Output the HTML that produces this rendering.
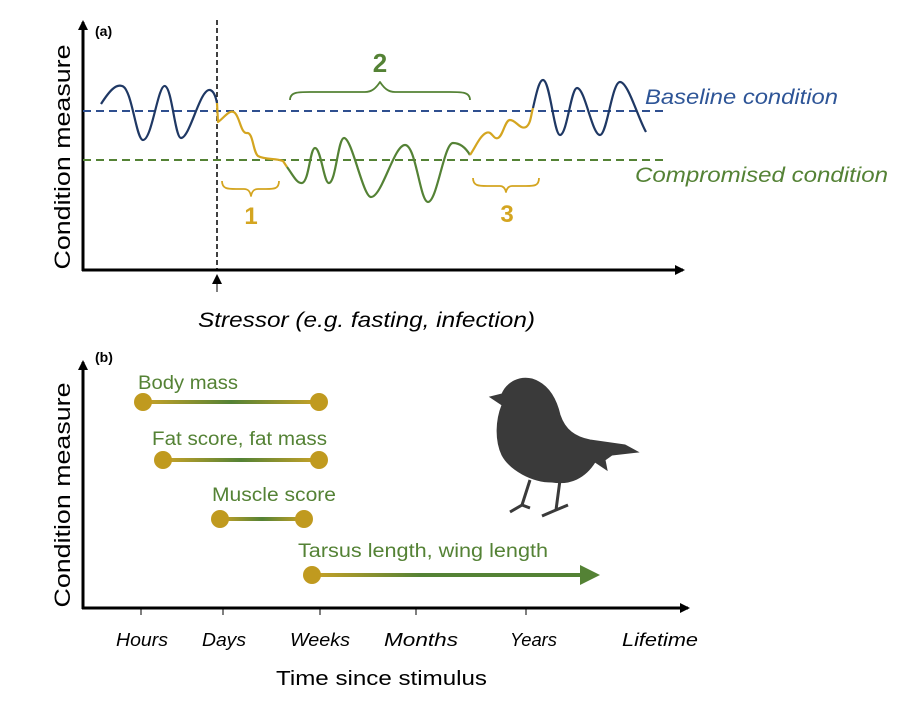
<!DOCTYPE html>
<html><head><meta charset="utf-8"><style>body{margin:0;background:#fff}svg{display:block}text{font-family:"Liberation Sans",sans-serif}</style></head><body>
<svg width="907" height="704" viewBox="0 0 907 704" xmlns="http://www.w3.org/2000/svg">
<defs>
<linearGradient id="g1" x1="0" x2="1"><stop offset="0" stop-color="#c9a227"/><stop offset="0.5" stop-color="#548235"/><stop offset="1" stop-color="#c9a227"/></linearGradient>
<linearGradient id="g2" x1="0" x2="1"><stop offset="0" stop-color="#c9a227"/><stop offset="0.4" stop-color="#548235"/><stop offset="1" stop-color="#548235"/></linearGradient>
<marker id="ar" markerWidth="10" markerHeight="10" refX="8" refY="5" orient="auto" markerUnits="userSpaceOnUse"><path d="M0,0 L10,5 L0,10z" fill="#000"/></marker>
</defs>
<line x1="83" y1="271" x2="83" y2="22" stroke="#000" stroke-width="3" marker-end="url(#ar)"/>
<line x1="82" y1="270" x2="683" y2="270" stroke="#000" stroke-width="3" marker-end="url(#ar)"/>
<line x1="217" y1="20" x2="217" y2="270" stroke="#000" stroke-width="1.5" stroke-dasharray="5,3"/>
<line x1="217" y1="292" x2="217" y2="276" stroke="#000" stroke-width="1" marker-end="url(#ar)"/>
<text x="95" y="36" font-size="14" font-weight="bold">(a)</text>
<text transform="translate(70,157) rotate(-90)" text-anchor="middle" font-size="22" textLength="225" lengthAdjust="spacingAndGlyphs">Condition measure</text>
<text x="198" y="327" font-size="21" font-style="italic" textLength="337" lengthAdjust="spacingAndGlyphs">Stressor (e.g. fasting, infection)</text>
<line x1="83" y1="111" x2="668" y2="111" stroke="#2f4f8f" stroke-width="2" stroke-dasharray="8,5"/>
<line x1="83" y1="160" x2="668" y2="160" stroke="#548235" stroke-width="2" stroke-dasharray="8,5"/>
<g fill="none" stroke-width="2.2" stroke-linejoin="round">
<path d="M101,104 C110,90 116,84 122,86 C132,88 136,140 143,140 C152,140 158,84 165,86 C172,88 175,138 181,138 C190,138 200,88 210,90 C214,91 216,98 217,103" stroke="#1f3864"/>
<path d="M217,103 L218,122 C224,118 230,108 235,113 C240,118 241,134 247,133 C253,132 253,152 258,156 C265,160 276,158 283,161 L287,167" stroke="#d4a520"/>
<path d="M287,167 C293,175 297,184 302,183 C309,182 310,148 315,148 C321,148 324,184 329,183 C336,182 338,138 344,138 C352,138 363,197 371,197 C382,197 394,145 405,145 C416,145 420,202 428,202 C437,202 444,143 453,143 C462,143 467,150 470,155" stroke="#548235"/>
<path d="M470,155 C476,146 480,136 486,133 C492,130 493,140 498,138 C503,136 505,120 510,120 C516,120 520,130 526,127 C531,124 531,114 533,108" stroke="#d4a520"/>
<path d="M533,108 C536,95 539,80 543,80 C550,80 554,135 560,135 C567,135 571,88 577,88 C585,88 592,135 600,135 C607,135 612,82 620,82 C628,82 638,118 646,132" stroke="#1f3864"/>
<path d="M290,100 C290,92 298,92 310,92 L365,92 C372,92 376,88 380,82 C384,88 388,92 395,92 L450,92 C462,92 470,92 470,100" stroke="#548235" stroke-width="1.8"/>
<path d="M222,181 C222,189 228,189 236,189 L244,189 C248,189 250,191 251,196 C252,191 254,189 258,189 L266,189 C274,189 279,189 279,181" stroke="#d4a520" stroke-width="1.8"/>
<path d="M473,178 C473,186 479,186 487,186 L500,186 C503,186 505,188 506,192 C507,188 509,186 512,186 L526,186 C534,186 539,186 539,178" stroke="#d4a520" stroke-width="1.8"/>
</g>
<text x="380" y="72" text-anchor="middle" font-size="26" font-weight="bold" fill="#548235">2</text>
<text x="251" y="224" text-anchor="middle" font-size="24" font-weight="bold" fill="#d4a520">1</text>
<text x="507" y="222" text-anchor="middle" font-size="24" font-weight="bold" fill="#d4a520">3</text>
<text x="645" y="104" font-size="21" font-style="italic" fill="#2e5597" textLength="193" lengthAdjust="spacingAndGlyphs">Baseline condition</text>
<text x="635" y="182" font-size="21" font-style="italic" fill="#548235" textLength="253" lengthAdjust="spacingAndGlyphs">Compromised condition</text>
<line x1="83" y1="609" x2="83" y2="362" stroke="#000" stroke-width="3" marker-end="url(#ar)"/>
<line x1="82" y1="608" x2="688" y2="608" stroke="#000" stroke-width="3" marker-end="url(#ar)"/>
<g stroke="#000" stroke-width="1"><line x1="141" y1="608" x2="141" y2="615"/><line x1="223" y1="608" x2="223" y2="615"/><line x1="320" y1="608" x2="320" y2="615"/><line x1="416" y1="608" x2="416" y2="615"/><line x1="526" y1="608" x2="526" y2="615"/></g>
<text x="95" y="362" font-size="14" font-weight="bold">(b)</text>
<text transform="translate(70,495) rotate(-90)" text-anchor="middle" font-size="22" textLength="225" lengthAdjust="spacingAndGlyphs">Condition measure</text>
<g font-size="18" font-style="italic">
<text x="116" y="646" textLength="52" lengthAdjust="spacingAndGlyphs">Hours</text>
<text x="202" y="646" textLength="44" lengthAdjust="spacingAndGlyphs">Days</text>
<text x="290" y="646" textLength="60" lengthAdjust="spacingAndGlyphs">Weeks</text>
<text x="384" y="646" textLength="74" lengthAdjust="spacingAndGlyphs">Months</text>
<text x="510" y="646" textLength="47" lengthAdjust="spacingAndGlyphs">Years</text>
<text x="622" y="646" textLength="76" lengthAdjust="spacingAndGlyphs">Lifetime</text></g>
<text x="276" y="685" font-size="20" textLength="211" lengthAdjust="spacingAndGlyphs">Time since stimulus</text>
<g font-size="19" fill="#548235">
<text x="138" y="389" textLength="100" lengthAdjust="spacingAndGlyphs">Body mass</text>
<text x="152" y="445" textLength="175" lengthAdjust="spacingAndGlyphs">Fat score, fat mass</text>
<text x="212" y="501" textLength="124" lengthAdjust="spacingAndGlyphs">Muscle score</text>
<text x="298" y="557" textLength="250" lengthAdjust="spacingAndGlyphs">Tarsus length, wing length</text></g>
<rect x="143" y="400" width="176" height="4" fill="url(#g1)"/>
<rect x="163" y="458" width="156" height="4" fill="url(#g1)"/>
<rect x="220" y="517" width="84" height="4" fill="url(#g1)"/>
<rect x="312" y="573" width="272" height="4" fill="url(#g2)"/>
<path d="M580,565 L600,575 L580,585z" fill="#548235"/>
<g fill="#c09a1f"><circle cx="143" cy="402" r="9"/><circle cx="319" cy="402" r="9"/><circle cx="163" cy="460" r="9"/><circle cx="319" cy="460" r="9"/><circle cx="220" cy="519" r="9"/><circle cx="304" cy="519" r="9"/><circle cx="312" cy="575" r="9"/></g>
<g fill="#3a3a3a" stroke="#3a3a3a">
<path d="M490,397 L502,394 C507,382 520,376 532,379 C548,384 556,398 560,415 C565,430 575,437 590,440 L625,445 L638,452 L612,455 L605,460 L607,470 L595,462 C585,478 570,485 552,482 C532,482 510,470 502,455 C495,440 496,420 502,405 Z" stroke-width="1"/>
<path d="M530,480 L522,505 L510,512 M522,505 L530,508 M560,480 L556,510 L542,516 M556,510 L568,505" fill="none" stroke-width="3"/>
</g>
</svg>
</body></html>
